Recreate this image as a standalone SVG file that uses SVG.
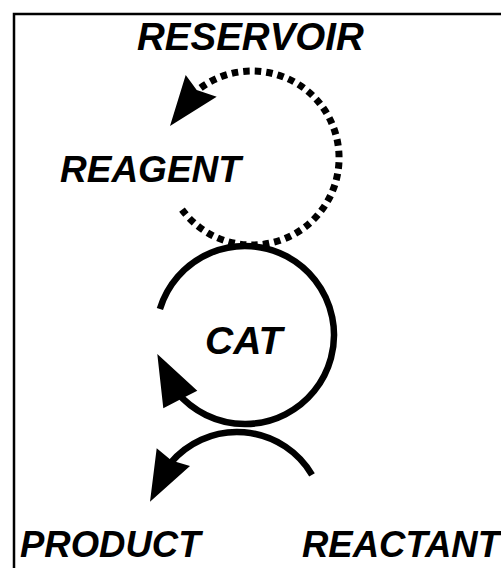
<svg xmlns="http://www.w3.org/2000/svg" width="501" height="568" viewBox="0 0 501 568">
  <style>
    .frame { fill: none; stroke: #000; stroke-width: 2.5; }
    .label { font-family: "Liberation Sans", Arial, sans-serif; font-weight: bold; font-style: italic; font-size: 37px; fill: #000; }
    .solid { fill: none; stroke: #000; stroke-width: 6.5; }
    .dotted { fill: none; stroke: #000; stroke-width: 7; stroke-dasharray: 6.5 5; }
    .head { fill: #000; stroke: none; }
  </style>
  <rect fill="#fff" x="0" y="0" width="501" height="568"/>
  <!-- outer frame, open to the right and bottom -->
  <path class="frame" d="M14 568 V14 H501"/>

  <g id="connectors">
    <!-- reservoir loop (dashed) -->
    <path class="dotted" d="M182 209.6 A87 87 0 1 0 196.1 91.4"/>
    <polygon class="head" points="185.7,75 196.7,90 216.7,96.7 170,126"/>
    <!-- catalytic cycle -->
    <path class="solid" d="M159.9 309 A89 89 0 1 1 176.8 392.2"/>
    <polygon class="head" points="197.3,390.7 183,398 163.3,408.3 157.3,354"/>
    <!-- reactant to product -->
    <path class="solid" d="M312 474.8 A87 87 0 0 0 170.4 463.1"/>
    <polygon class="head" points="156.7,448.3 171.5,460.6 190,466 150,501.7"/>
  </g>

  <g id="reservoir"><text class="label" x="137" y="50" style="font-size:38.5px">RESERVOIR</text></g>
  <g id="reagent"><text class="label" x="60" y="182">REAGENT</text></g>
  <g id="cat"><text class="label" x="205" y="354" style="font-size:39px">CAT</text></g>
  <g id="product"><text class="label" x="20" y="557" style="font-size:36.5px">PRODUCT</text></g>
  <g id="reactant"><text class="label" x="302" y="557" style="font-size:36.5px">REACTANT</text></g>
</svg>
